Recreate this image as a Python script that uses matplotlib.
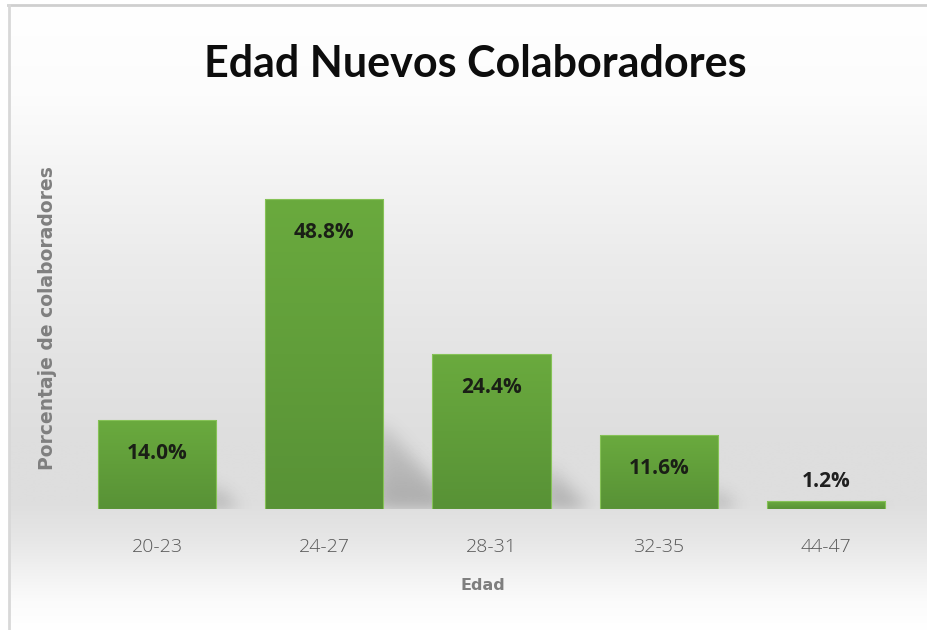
import numpy as np
import matplotlib
matplotlib.use("Agg")
import matplotlib.pyplot as plt
from matplotlib import font_manager
from matplotlib.patches import Rectangle
from matplotlib.lines import Line2D

# ---- data ----
categories = ["20-23", "24-27", "28-31", "32-35", "44-47"]
percentages = [14.0, 48.8, 24.4, 11.6, 1.2]
title_text = "Edad Nuevos Colaboradores"
xlabel_text = "Edad"
ylabel_text = "Porcentaje de colaboradores"

W, H, DPI = 927, 630, 100
available = {f.name for f in font_manager.fontManager.ttflist}


def pick(*names):
    for n in names:
        if n in available:
            return n
    return "DejaVu Sans"


title_font = pick("Liberation Sans Narrow", "Lato", "Open Sans")
body_font = pick("Open Sans", "Lato", "DejaVu Sans")
label_font = pick("DejaVu Sans")

fig = plt.figure(figsize=(W / DPI, H / DPI), dpi=DPI)
fig.patch.set_facecolor("white")

# ---- soft vertical background gradient inside the chart frame ----
bg_ax = fig.add_axes([0, 0, 1, 1], zorder=-10)
bg_ax.set_xlim(0, W)
bg_ax.set_ylim(H, 0)
bg_ax.axis("off")
rows = np.arange(H)
stops_y = [0, 90, 160, 250, 350, 440, 500, 540, 575, 600, 630]
stops_v = [255, 252, 245, 236, 228, 222, 222, 231, 243, 251, 255]
prof = np.interp(rows, stops_y, stops_v) / 255.0
grad = np.repeat(prof[:, None], 2, axis=1)
bg_ax.imshow(np.dstack([grad, grad, grad]), extent=[10, W, H, 6],
             aspect="auto", interpolation="bilinear")
# frame lines
bg_ax.add_line(Line2D([8, W], [5, 5], color="#cfcfcf", lw=2))
bg_ax.add_line(Line2D([9, 9], [5, H], color="#d8d8d8", lw=2))

# ---- main axes ----
ax_left, ax_right = 73.5, 909.5
ax_bottom_px, ax_top_px = 509, 128
ax = fig.add_axes([ax_left / W, (H - ax_bottom_px) / H,
                   (ax_right - ax_left) / W, (ax_bottom_px - ax_top_px) / H])
ax.set_facecolor("none")
ymax = 60
ax.set_xlim(-0.5, len(categories) - 0.5)
ax.set_ylim(0, ymax)
for s in ax.spines.values():
    s.set_visible(False)
ax.set_yticks([])
xs = np.arange(len(categories))
ax.set_xticks(xs)
ax.set_xticklabels(categories, fontsize=14, color="#595959", family=body_font,
                   fontweight="light")
ax.tick_params(axis="x", length=0, pad=21)

bar_w = 0.706
px_per_x = (ax_right - ax_left) / len(categories)
px_per_y = (ax_bottom_px - ax_top_px) / ymax

# ---- soft cast shadows (triangles to the right of each bar, blurred) ----
y_lo, y_hi = -3.0, 22.0
ncols = int(round(ax_right - ax_left))
nrows = int(round((y_hi - y_lo) * px_per_y))
gx = (np.arange(ncols) + 0.5) / px_per_x - 0.5           # data x
gy = y_hi - (np.arange(nrows) + 0.5) / px_per_y          # data y (top row first)
GX, GY = np.meshgrid(gx, gy)
alpha = np.zeros_like(GX)
k_rel, s_rel = 0.27, 0.24
for xi, v in zip(xs, percentages):
    x1 = xi + bar_w / 2
    h_px = v * px_per_y
    top = k_rel * v                        # data units
    reach = s_rel * h_px / px_per_x        # data units
    if reach <= 0:
        continue
    dx = GX - x1
    frac = np.clip(1 - dx / reach, 0, 1)
    inside = (dx >= -0.05) & (GY >= 0) & (GY <= top * frac)
    strength = 0.32 * (1 - 0.5 * np.clip(GY / max(top, 1e-6), 0, 1))
    alpha = np.maximum(alpha, np.where(inside, strength, 0))


def blur1d(a, sigma, axis):
    r = int(3 * sigma)
    t = np.arange(-r, r + 1)
    kern = np.exp(-0.5 * (t / sigma) ** 2)
    kern /= kern.sum()
    return np.apply_along_axis(lambda m: np.convolve(m, kern, mode="same"), axis, a)


alpha = blur1d(blur1d(alpha, 9, 1), 8, 0)
shadow = np.zeros((nrows, ncols, 4))
shadow[..., :3] = 0.25
shadow[..., 3] = alpha
ax.imshow(shadow, extent=[-0.5, len(categories) - 0.5, y_lo, y_hi],
          aspect="auto", zorder=1, interpolation="bilinear")
ax.set_xlim(-0.5, len(categories) - 0.5)
ax.set_ylim(0, ymax)

# ---- bars with vertical green gradient ----
top_c = np.array([106, 170, 62]) / 255.0
bot_c = np.array([88, 146, 54]) / 255.0
tgrad = np.linspace(0, 1, 64)[:, None]
bar_img = top_c[None, None, :] * (1 - tgrad[..., None]) + bot_c[None, None, :] * tgrad[..., None]
bar_img = np.repeat(bar_img, 2, axis=1)
bars = ax.bar(xs, percentages, width=bar_w, color="none", edgecolor="#86c257",
              linewidth=0.8, zorder=3)
for b in bars:
    x0, y0 = b.get_x(), b.get_y()
    im = ax.imshow(bar_img, extent=[x0, x0 + b.get_width(), y0, y0 + b.get_height()],
                   aspect="auto", zorder=2, interpolation="bilinear")
    clip = Rectangle((x0, y0), b.get_width(), b.get_height(), transform=ax.transData)
    im.set_clip_path(clip)
ax.set_xlim(-0.5, len(categories) - 0.5)
ax.set_ylim(0, ymax)

# ---- value labels ----
for xi, v in zip(xs, percentages):
    label = f"{v:.1f}%"
    if v * px_per_y > 40:
        ax.annotate(label, (xi, v), xytext=(0, -24), textcoords="offset points",
                    ha="center", va="center", fontsize=15, fontweight="bold",
                    color="#1a1f16", family=body_font, zorder=5)
    else:
        ax.annotate(label, (xi, v), xytext=(0, 14), textcoords="offset points",
                    ha="center", va="center", fontsize=15, fontweight="bold",
                    color="#1f1f1f", family=body_font, zorder=5)

# ---- titles ----
fig.text(475 / W, 1 - 64 / H, title_text, ha="center", va="center",
         fontsize=31, fontweight="bold", color="#0d0d0d", family=title_font)
fig.text(483 / W, 1 - 585 / H, xlabel_text, ha="center", va="center",
         fontsize=11.5, fontweight="bold", color="#7f7f7f", family=label_font)
fig.text(48 / W, 1 - 318 / H, ylabel_text, ha="center", va="center",
         rotation=90, fontsize=13.5, fontweight="bold", color="#7f7f7f",
         family=label_font)

fig.savefig("out.png", dpi=DPI, facecolor="white")
